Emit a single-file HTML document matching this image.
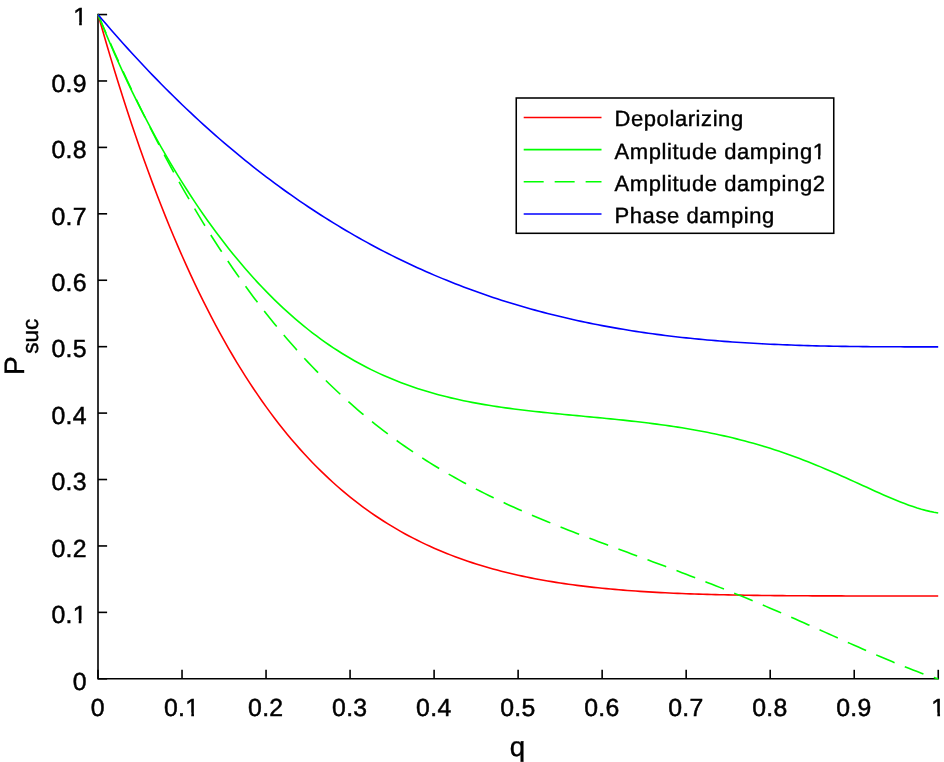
<!DOCTYPE html>
<html><head><meta charset="utf-8"><title>P_suc vs q</title>
<style>html,body{margin:0;padding:0;background:#fff;overflow:hidden}</style></head>
<body>
<svg width="944" height="762" viewBox="0 0 944 762" style="display:block;font-family:'Liberation Sans',sans-serif;text-rendering:geometricPrecision">
<rect width="944" height="762" fill="#fff"/>
<g stroke="#000" stroke-width="1.6" fill="none">
<path d="M98,13.75 V678.7 H939.05"/>
<path d="M98.00,678.7 V669.8"/>
<path d="M98,678.80 H107.1"/>
<path d="M182.03,678.7 V669.8"/>
<path d="M98,612.38 H107.1"/>
<path d="M266.05,678.7 V669.8"/>
<path d="M98,545.95 H107.1"/>
<path d="M350.07,678.7 V669.8"/>
<path d="M98,479.52 H107.1"/>
<path d="M434.10,678.7 V669.8"/>
<path d="M98,413.10 H107.1"/>
<path d="M518.12,678.7 V669.8"/>
<path d="M98,346.67 H107.1"/>
<path d="M602.15,678.7 V669.8"/>
<path d="M98,280.25 H107.1"/>
<path d="M686.17,678.7 V669.8"/>
<path d="M98,213.82 H107.1"/>
<path d="M770.20,678.7 V669.8"/>
<path d="M98,147.40 H107.1"/>
<path d="M854.23,678.7 V669.8"/>
<path d="M98,80.97 H107.1"/>
<path d="M938.25,678.7 V669.8"/>
<path d="M98,14.55 H107.1"/>
</g>
<g fill="none" stroke-width="1.6" stroke-linejoin="round">
<path d="M98.15,14.70 L102.35,29.49 L106.55,43.95 L110.75,58.11 L114.95,71.96 L119.15,85.50 L123.35,98.75 L127.55,111.71 L131.75,124.39 L135.95,136.78 L140.15,148.90 L144.35,160.75 L148.55,172.33 L152.75,183.65 L156.95,194.72 L161.15,205.53 L165.35,216.10 L169.55,226.43 L173.75,236.52 L177.95,246.37 L182.16,256.00 L186.36,265.41 L190.56,274.59 L194.76,283.56 L198.96,292.32 L203.16,300.87 L207.36,309.22 L211.56,317.37 L215.76,325.32 L219.96,333.08 L224.16,340.65 L228.36,348.04 L232.56,355.25 L236.76,362.29 L240.96,369.14 L245.16,375.83 L249.36,382.36 L253.56,388.72 L257.76,394.92 L261.96,400.96 L266.16,406.85 L270.36,412.60 L274.56,418.19 L278.76,423.64 L282.96,428.95 L287.16,434.13 L291.36,439.16 L295.56,444.07 L299.76,448.85 L303.96,453.50 L308.16,458.03 L312.36,462.43 L316.56,466.72 L320.76,470.89 L324.96,474.95 L329.16,478.90 L333.36,482.74 L337.56,486.48 L341.76,490.11 L345.96,493.64 L350.17,497.07 L354.37,500.41 L358.57,503.65 L362.77,506.80 L366.97,509.86 L371.17,512.83 L375.37,515.72 L379.57,518.52 L383.77,521.24 L387.97,523.88 L392.17,526.44 L396.37,528.93 L400.57,531.34 L404.77,533.68 L408.97,535.95 L413.17,538.15 L417.37,540.29 L421.57,542.35 L425.77,544.36 L429.97,546.30 L434.17,548.18 L438.37,550.00 L442.57,551.77 L446.77,553.47 L450.97,555.13 L455.17,556.73 L459.37,558.27 L463.57,559.77 L467.77,561.22 L471.97,562.62 L476.17,563.97 L480.37,565.28 L484.57,566.54 L488.77,567.77 L492.97,568.94 L497.17,570.08 L501.37,571.18 L505.57,572.24 L509.77,573.26 L513.97,574.25 L518.18,575.20 L522.38,576.12 L526.58,577.00 L530.78,577.86 L534.98,578.68 L539.18,579.47 L543.38,580.23 L547.58,580.96 L551.78,581.66 L555.98,582.34 L560.18,582.99 L564.38,583.61 L568.58,584.22 L572.78,584.79 L576.98,585.35 L581.18,585.88 L585.38,586.39 L589.58,586.88 L593.78,587.35 L597.98,587.79 L602.18,588.22 L606.38,588.64 L610.58,589.03 L614.78,589.41 L618.98,589.77 L623.18,590.11 L627.38,590.44 L631.58,590.76 L635.78,591.06 L639.98,591.34 L644.18,591.61 L648.38,591.87 L652.58,592.12 L656.78,592.36 L660.98,592.58 L665.18,592.79 L669.38,592.99 L673.58,593.19 L677.78,593.37 L681.98,593.54 L686.19,593.70 L690.39,593.86 L694.59,594.00 L698.79,594.14 L702.99,594.27 L707.19,594.39 L711.39,594.51 L715.59,594.62 L719.79,594.72 L723.99,594.82 L728.19,594.91 L732.39,594.99 L736.59,595.07 L740.79,595.15 L744.99,595.22 L749.19,595.28 L753.39,595.34 L757.59,595.40 L761.79,595.45 L765.99,595.50 L770.19,595.54 L774.39,595.58 L778.59,595.62 L782.79,595.66 L786.99,595.69 L791.19,595.72 L795.39,595.75 L799.59,595.77 L803.79,595.79 L807.99,595.81 L812.19,595.83 L816.39,595.85 L820.59,595.86 L824.79,595.88 L828.99,595.89 L833.19,595.90 L837.39,595.91 L841.59,595.92 L845.79,595.93 L849.99,595.93 L854.20,595.94 L858.40,595.94 L862.60,595.95 L866.80,595.95 L871.00,595.95 L875.20,595.95 L879.40,595.96 L883.60,595.96 L887.80,595.96 L892.00,595.96 L896.20,595.96 L900.40,595.96 L904.60,595.96 L908.80,595.96 L913.00,595.96 L917.20,595.96 L921.40,595.96 L925.60,595.96 L929.80,595.96 L934.00,595.96 L938.20,595.96" stroke="#f00"/>
<path d="M98.15,14.70 L102.35,25.04 L106.55,35.12 L110.75,44.96 L114.95,54.57 L119.15,63.95 L123.35,73.12 L127.55,82.08 L131.75,90.84 L135.95,99.40 L140.15,107.77 L144.35,115.97 L148.55,123.99 L152.75,131.84 L156.95,139.52 L161.15,147.04 L165.35,154.40 L169.55,161.61 L173.75,168.68 L177.95,175.59 L182.16,182.37 L186.36,189.00 L190.56,195.50 L194.76,201.86 L198.96,208.09 L203.16,214.20 L207.36,220.17 L211.56,226.02 L215.76,231.75 L219.96,237.35 L224.16,242.84 L228.36,248.20 L232.56,253.46 L236.76,258.59 L240.96,263.61 L245.16,268.52 L249.36,273.32 L253.56,278.01 L257.76,282.59 L261.96,287.06 L266.16,291.42 L270.36,295.68 L274.56,299.84 L278.76,303.89 L282.96,307.85 L287.16,311.70 L291.36,315.45 L295.56,319.11 L299.76,322.67 L303.96,326.13 L308.16,329.50 L312.36,332.77 L316.56,335.96 L320.76,339.05 L324.96,342.05 L329.16,344.97 L333.36,347.80 L337.56,350.54 L341.76,353.20 L345.96,355.78 L350.17,358.28 L354.37,360.70 L358.57,363.04 L362.77,365.30 L366.97,367.48 L371.17,369.60 L375.37,371.64 L379.57,373.61 L383.77,375.51 L387.97,377.35 L392.17,379.11 L396.37,380.82 L400.57,382.46 L404.77,384.04 L408.97,385.56 L413.17,387.02 L417.37,388.43 L421.57,389.78 L425.77,391.08 L429.97,392.33 L434.17,393.53 L438.37,394.68 L442.57,395.78 L446.77,396.84 L450.97,397.86 L455.17,398.83 L459.37,399.77 L463.57,400.66 L467.77,401.52 L471.97,402.34 L476.17,403.13 L480.37,403.89 L484.57,404.62 L488.77,405.31 L492.97,405.98 L497.17,406.63 L501.37,407.25 L505.57,407.84 L509.77,408.41 L513.97,408.97 L518.18,409.50 L522.38,410.02 L526.58,410.51 L530.78,411.00 L534.98,411.47 L539.18,411.92 L543.38,412.37 L547.58,412.80 L551.78,413.23 L555.98,413.65 L560.18,414.06 L564.38,414.46 L568.58,414.86 L572.78,415.26 L576.98,415.66 L581.18,416.05 L585.38,416.45 L589.58,416.84 L593.78,417.24 L597.98,417.64 L602.18,418.05 L606.38,418.46 L610.58,418.87 L614.78,419.30 L618.98,419.73 L623.18,420.17 L627.38,420.62 L631.58,421.08 L635.78,421.56 L639.98,422.04 L644.18,422.54 L648.38,423.06 L652.58,423.59 L656.78,424.14 L660.98,424.70 L665.18,425.28 L669.38,425.89 L673.58,426.51 L677.78,427.15 L681.98,427.82 L686.19,428.51 L690.39,429.22 L694.59,429.96 L698.79,430.72 L702.99,431.51 L707.19,432.32 L711.39,433.17 L715.59,434.04 L719.79,434.95 L723.99,435.88 L728.19,436.84 L732.39,437.84 L736.59,438.87 L740.79,439.93 L744.99,441.03 L749.19,442.16 L753.39,443.32 L757.59,444.52 L761.79,445.76 L765.99,447.03 L770.19,448.34 L774.39,449.69 L778.59,451.07 L782.79,452.49 L786.99,453.95 L791.19,455.44 L795.39,456.97 L799.59,458.54 L803.79,460.14 L807.99,461.77 L812.19,463.44 L816.39,465.14 L820.59,466.87 L824.79,468.64 L828.99,470.42 L833.19,472.24 L837.39,474.08 L841.59,475.94 L845.79,477.81 L849.99,479.71 L854.20,481.61 L858.40,483.52 L862.60,485.44 L866.80,487.35 L871.00,489.26 L875.20,491.16 L879.40,493.04 L883.60,494.90 L887.80,496.73 L892.00,498.52 L896.20,500.26 L900.40,501.95 L904.60,503.58 L908.80,505.13 L913.00,506.59 L917.20,507.97 L921.40,509.23 L925.60,510.37 L929.80,511.38 L934.00,512.23 L938.20,512.93" stroke="#0f0"/>
<path d="M98.15,14.70 L102.35,24.60 L106.55,34.36 L110.75,43.98 L114.95,53.46 L119.15,62.80 L123.35,72.00 L127.55,81.07 L131.75,90.00 L135.95,98.80 L140.15,107.47 L144.35,116.01 L148.55,124.43 L152.75,132.72 L156.95,140.88 L161.15,148.92 L165.35,156.83 L169.55,164.63 L173.75,172.31 L177.95,179.86 L182.16,187.31 L186.36,194.63 L190.56,201.84 L194.76,208.94 L198.96,215.93 L203.16,222.80 L207.36,229.57 L211.56,236.23 L215.76,242.78 L219.96,249.23 L224.16,255.57 L228.36,261.81 L232.56,267.95 L236.76,273.98 L240.96,279.92 L245.16,285.76 L249.36,291.50 L253.56,297.15 L257.76,302.70 L261.96,308.16 L266.16,313.52 L270.36,318.80 L274.56,323.98 L278.76,329.08 L282.96,334.09 L287.16,339.01 L291.36,343.84 L295.56,348.59 L299.76,353.26 L303.96,357.85 L308.16,362.36 L312.36,366.78 L316.56,371.13 L320.76,375.40 L324.96,379.59 L329.16,383.71 L333.36,387.75 L337.56,391.72 L341.76,395.62 L345.96,399.45 L350.17,403.21 L354.37,406.90 L358.57,410.52 L362.77,414.08 L366.97,417.57 L371.17,421.00 L375.37,424.36 L379.57,427.66 L383.77,430.90 L387.97,434.09 L392.17,437.21 L396.37,440.28 L400.57,443.29 L404.77,446.24 L408.97,449.14 L413.17,451.99 L417.37,454.78 L421.57,457.53 L425.77,460.23 L429.97,462.87 L434.17,465.47 L438.37,468.03 L442.57,470.54 L446.77,473.00 L450.97,475.42 L455.17,477.80 L459.37,480.14 L463.57,482.44 L467.77,484.70 L471.97,486.92 L476.17,489.11 L480.37,491.26 L484.57,493.38 L488.77,495.46 L492.97,497.51 L497.17,499.53 L501.37,501.53 L505.57,503.49 L509.77,505.42 L513.97,507.33 L518.18,509.21 L522.38,511.07 L526.58,512.90 L530.78,514.71 L534.98,516.50 L539.18,518.27 L543.38,520.02 L547.58,521.75 L551.78,523.46 L555.98,525.16 L560.18,526.84 L564.38,528.50 L568.58,530.15 L572.78,531.79 L576.98,533.42 L581.18,535.04 L585.38,536.64 L589.58,538.24 L593.78,539.83 L597.98,541.41 L602.18,542.98 L606.38,544.55 L610.58,546.12 L614.78,547.68 L618.98,549.24 L623.18,550.79 L627.38,552.34 L631.58,553.89 L635.78,555.45 L639.98,557.00 L644.18,558.55 L648.38,560.11 L652.58,561.67 L656.78,563.23 L660.98,564.79 L665.18,566.36 L669.38,567.93 L673.58,569.51 L677.78,571.10 L681.98,572.69 L686.19,574.29 L690.39,575.89 L694.59,577.51 L698.79,579.13 L702.99,580.76 L707.19,582.40 L711.39,584.05 L715.59,585.71 L719.79,587.37 L723.99,589.05 L728.19,590.74 L732.39,592.44 L736.59,594.14 L740.79,595.86 L744.99,597.59 L749.19,599.33 L753.39,601.08 L757.59,602.84 L761.79,604.60 L765.99,606.38 L770.19,608.17 L774.39,609.97 L778.59,611.78 L782.79,613.59 L786.99,615.42 L791.19,617.25 L795.39,619.09 L799.59,620.94 L803.79,622.79 L807.99,624.65 L812.19,626.51 L816.39,628.38 L820.59,630.25 L824.79,632.12 L828.99,634.00 L833.19,635.88 L837.39,637.75 L841.59,639.63 L845.79,641.50 L849.99,643.37 L854.20,645.24 L858.40,647.09 L862.60,648.95 L866.80,650.79 L871.00,652.62 L875.20,654.44 L879.40,656.25 L883.60,658.04 L887.80,659.81 L892.00,661.56 L896.20,663.30 L900.40,665.01 L904.60,666.69 L908.80,668.35 L913.00,669.98 L917.20,671.58 L921.40,673.14 L925.60,674.67 L929.80,676.15 L934.00,677.60 L938.20,679.00" stroke="#0f0" stroke-dasharray="19.98 10.99"/>
<path d="M98.15,14.70 L102.35,19.66 L106.55,24.57 L110.75,29.42 L114.95,34.23 L119.15,38.99 L123.35,43.71 L127.55,48.37 L131.75,52.98 L135.95,57.55 L140.15,62.07 L144.35,66.55 L148.55,70.97 L152.75,75.35 L156.95,79.68 L161.15,83.97 L165.35,88.21 L169.55,92.40 L173.75,96.55 L177.95,100.65 L182.16,104.71 L186.36,108.73 L190.56,112.69 L194.76,116.62 L198.96,120.50 L203.16,124.34 L207.36,128.13 L211.56,131.88 L215.76,135.58 L219.96,139.25 L224.16,142.87 L228.36,146.45 L232.56,149.98 L236.76,153.48 L240.96,156.93 L245.16,160.34 L249.36,163.71 L253.56,167.04 L257.76,170.33 L261.96,173.58 L266.16,176.79 L270.36,179.96 L274.56,183.09 L278.76,186.18 L282.96,189.23 L287.16,192.24 L291.36,195.21 L295.56,198.15 L299.76,201.04 L303.96,203.90 L308.16,206.72 L312.36,209.51 L316.56,212.25 L320.76,214.96 L324.96,217.64 L329.16,220.27 L333.36,222.88 L337.56,225.44 L341.76,227.97 L345.96,230.46 L350.17,232.92 L354.37,235.35 L358.57,237.74 L362.77,240.09 L366.97,242.41 L371.17,244.70 L375.37,246.95 L379.57,249.17 L383.77,251.36 L387.97,253.51 L392.17,255.63 L396.37,257.72 L400.57,259.78 L404.77,261.80 L408.97,263.80 L413.17,265.76 L417.37,267.69 L421.57,269.59 L425.77,271.46 L429.97,273.30 L434.17,275.11 L438.37,276.88 L442.57,278.63 L446.77,280.35 L450.97,282.04 L455.17,283.71 L459.37,285.34 L463.57,286.94 L467.77,288.52 L471.97,290.07 L476.17,291.59 L480.37,293.08 L484.57,294.55 L488.77,295.99 L492.97,297.40 L497.17,298.79 L501.37,300.15 L505.57,301.48 L509.77,302.79 L513.97,304.07 L518.18,305.33 L522.38,306.56 L526.58,307.77 L530.78,308.96 L534.98,310.12 L539.18,311.25 L543.38,312.37 L547.58,313.45 L551.78,314.52 L555.98,315.56 L560.18,316.58 L564.38,317.58 L568.58,318.56 L572.78,319.51 L576.98,320.44 L581.18,321.35 L585.38,322.24 L589.58,323.11 L593.78,323.96 L597.98,324.79 L602.18,325.59 L606.38,326.38 L610.58,327.15 L614.78,327.90 L618.98,328.62 L623.18,329.33 L627.38,330.03 L631.58,330.70 L635.78,331.35 L639.98,331.99 L644.18,332.61 L648.38,333.21 L652.58,333.80 L656.78,334.36 L660.98,334.91 L665.18,335.45 L669.38,335.97 L673.58,336.47 L677.78,336.95 L681.98,337.43 L686.19,337.88 L690.39,338.32 L694.59,338.75 L698.79,339.16 L702.99,339.56 L707.19,339.94 L711.39,340.31 L715.59,340.67 L719.79,341.01 L723.99,341.34 L728.19,341.66 L732.39,341.97 L736.59,342.26 L740.79,342.54 L744.99,342.81 L749.19,343.07 L753.39,343.31 L757.59,343.55 L761.79,343.77 L765.99,343.99 L770.19,344.19 L774.39,344.39 L778.59,344.57 L782.79,344.75 L786.99,344.91 L791.19,345.07 L795.39,345.22 L799.59,345.36 L803.79,345.49 L807.99,345.61 L812.19,345.73 L816.39,345.84 L820.59,345.94 L824.79,346.03 L828.99,346.12 L833.19,346.20 L837.39,346.28 L841.59,346.34 L845.79,346.41 L849.99,346.47 L854.20,346.52 L858.40,346.57 L862.60,346.61 L866.80,346.65 L871.00,346.68 L875.20,346.71 L879.40,346.74 L883.60,346.76 L887.80,346.78 L892.00,346.79 L896.20,346.81 L900.40,346.82 L904.60,346.83 L908.80,346.84 L913.00,346.84 L917.20,346.84 L921.40,346.85 L925.60,346.85 L929.80,346.85 L934.00,346.85 L938.20,346.85" stroke="#00f"/>
</g>
<g font-size="24.8" fill="#000" stroke="#000" stroke-width="0.5" letter-spacing="0.3">
<text x="97.70" y="715.8" text-anchor="middle">0</text>
<text x="86.80" y="689.60" text-anchor="end">0</text>
<text x="181.72" y="715.8" text-anchor="middle">0.1</text>
<text x="86.80" y="623.17" text-anchor="end">0.1</text>
<text x="265.75" y="715.8" text-anchor="middle">0.2</text>
<text x="86.80" y="556.75" text-anchor="end">0.2</text>
<text x="349.77" y="715.8" text-anchor="middle">0.3</text>
<text x="86.80" y="490.32" text-anchor="end">0.3</text>
<text x="433.80" y="715.8" text-anchor="middle">0.4</text>
<text x="86.80" y="423.90" text-anchor="end">0.4</text>
<text x="517.83" y="715.8" text-anchor="middle">0.5</text>
<text x="86.80" y="357.47" text-anchor="end">0.5</text>
<text x="601.85" y="715.8" text-anchor="middle">0.6</text>
<text x="86.80" y="291.05" text-anchor="end">0.6</text>
<text x="685.88" y="715.8" text-anchor="middle">0.7</text>
<text x="86.80" y="224.62" text-anchor="end">0.7</text>
<text x="769.90" y="715.8" text-anchor="middle">0.8</text>
<text x="86.80" y="158.20" text-anchor="end">0.8</text>
<text x="853.93" y="715.8" text-anchor="middle">0.9</text>
<text x="86.80" y="91.77" text-anchor="end">0.9</text>
<text x="938.40" y="715.8" text-anchor="middle">1</text>
<text x="87.25" y="25.35" text-anchor="end">1</text>
</g>
<text x="517.4" y="756.0" font-size="27.6" text-anchor="middle" stroke="#000" stroke-width="0.4">q</text>
<text transform="translate(24,374.9) rotate(-90)" font-size="28" stroke="#000" stroke-width="0.4">P<tspan font-size="22.5" dx="2.4" dy="14.4">suc</tspan></text>
<rect x="516.25" y="98" width="317.5" height="135.3" fill="#fff" stroke="#000" stroke-width="1.55"/>
<path d="M523.7,117.50 H601.5" stroke="#f00" stroke-width="1.6" fill="none"/>
<text x="614.5" y="126.40" font-size="22" letter-spacing="0.58" stroke="#000" stroke-width="0.4">Depolarizing</text>
<path d="M523.7,149.65 H601.5" stroke="#0f0" stroke-width="1.6" fill="none"/>
<text x="614.5" y="158.55" font-size="22" letter-spacing="0.58" stroke="#000" stroke-width="0.4">Amplitude damping1</text>
<path d="M523.7,181.80 H601.5" stroke="#0f0" stroke-width="1.6" stroke-dasharray="19.98 10.99" fill="none"/>
<text x="614.5" y="190.70" font-size="22" letter-spacing="0.58" stroke="#000" stroke-width="0.4">Amplitude damping2</text>
<path d="M523.7,213.95 H601.5" stroke="#00f" stroke-width="1.6" fill="none"/>
<text x="614.5" y="222.85" font-size="22" letter-spacing="0.58" stroke="#000" stroke-width="0.4">Phase damping</text>
<g fill="#fff"><rect x="185.64" y="712.50" width="5.65" height="5.15"/><rect x="193.98" y="712.50" width="5.45" height="5.15"/><rect x="73.03" y="619.87" width="5.65" height="5.15"/><rect x="81.37" y="619.87" width="5.45" height="5.15"/><rect x="931.69" y="712.50" width="5.65" height="5.15"/><rect x="940.03" y="712.50" width="5.45" height="5.15"/><rect x="73.50" y="22.05" width="5.65" height="5.15"/><rect x="81.83" y="22.05" width="5.45" height="5.15"/><rect x="812.86" y="155.51" width="5.16" height="4.84"/><rect x="820.36" y="155.51" width="4.98" height="4.84"/></g>
</svg>
</body></html>
